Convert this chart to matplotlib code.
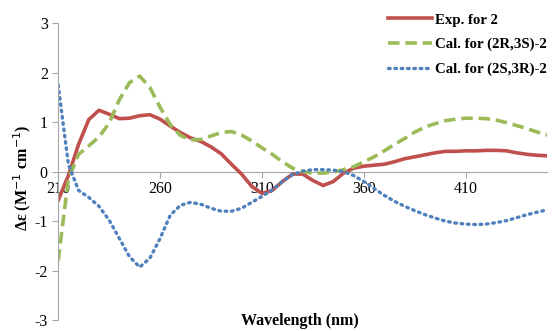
import matplotlib
matplotlib.use("Agg")
import matplotlib.pyplot as plt
import numpy as np

wavelength = list(range(210, 451, 5))
exp2 = [-0.58, -0.08, 0.55, 1.05, 1.24, 1.16, 1.07, 1.08, 1.13, 1.15,
        1.06, 0.92, 0.79, 0.68, 0.61, 0.50, 0.36, 0.15, -0.05, -0.30,
        -0.44, -0.38, -0.20, -0.05, -0.05, -0.18, -0.28, -0.20, -0.03, 0.07,
        0.11, 0.13, 0.15, 0.20, 0.26, 0.30, 0.34, 0.38, 0.41, 0.41,
        0.42, 0.42, 0.43, 0.43, 0.42, 0.38, 0.35, 0.33, 0.32]
cal_2R3S = [-1.80, -0.15, 0.35, 0.52, 0.70, 0.98, 1.45, 1.80, 1.93, 1.70,
            1.30, 0.95, 0.73, 0.64, 0.65, 0.72, 0.79, 0.81, 0.74, 0.62,
            0.48, 0.35, 0.20, 0.07, 0.00, -0.03, -0.03, -0.01, 0.04, 0.10,
            0.20, 0.30, 0.42, 0.55, 0.67, 0.80, 0.90, 0.97, 1.03, 1.06,
            1.08, 1.08, 1.07, 1.04, 0.99, 0.93, 0.87, 0.80, 0.74]
cal_2S3R = [1.75, 0.15, -0.38, -0.52, -0.70, -0.98, -1.35, -1.72, -1.93, -1.75,
            -1.35, -0.88, -0.68, -0.62, -0.66, -0.74, -0.80, -0.80, -0.74, -0.62,
            -0.50, -0.37, -0.20, -0.06, 0.01, 0.04, 0.04, 0.03, 0.00, -0.08,
            -0.20, -0.34, -0.48, -0.60, -0.70, -0.79, -0.87, -0.94, -1.00, -1.04,
            -1.06, -1.07, -1.06, -1.03, -0.99, -0.93, -0.87, -0.82, -0.77]
labels = ["Exp. for 2", "Cal. for (2R,3S)-2", "Cal. for (2S,3R)-2"]
xticks = [210, 260, 310, 360, 410]
yticks = [-3, -2, -1, 0, 1, 2, 3]

plt.rcParams['font.family'] = ['Liberation Serif', 'DejaVu Serif']

fig = plt.figure(figsize=(5.54, 3.31), dpi=100)
ax = fig.add_axes([0.105, 0.033, 0.883, 0.897])

ax.plot(wavelength, exp2, color='#c0504d', lw=2.6, solid_joinstyle='round', label=labels[0])
ax.plot(wavelength, cal_2R3S, color='#9bbb59', lw=2.6, ls=(0, (3.2, 1.6)), label=labels[1])
ax.plot(wavelength, cal_2S3R, color='#4f81bd', lw=2.4, ls=(0, (0.5, 1.4)), dash_capstyle='round', label=labels[2])

ax.set_xlim(210, 450)
ax.set_ylim(-3, 3)
ax.set_xticks(xticks)
ax.set_yticks(yticks)
ax.set_yticklabels([str(v) for v in yticks])

for s in ['top', 'right']:
    ax.spines[s].set_visible(False)
ax.spines['bottom'].set_position(('data', 0))
ax.spines['bottom'].set_color('#a6a6a6')
ax.spines['left'].set_color('#a6a6a6')
ax.spines['bottom'].set_zorder(0)
ax.tick_params(axis='both', colors='#a6a6a6', labelcolor='black', labelsize=11.5,
               length=4, width=0.8, direction='out')
ax.tick_params(axis='x', pad=3)

ax.set_ylabel('Δε (M$^{-1}$ cm$^{-1}$)', fontsize=11.5, fontweight='bold')
ax.yaxis.set_label_coords(-0.052, 0.48)
fig.text(0.542, 0.005, 'Wavelength (nm)', fontsize=11.5, fontweight='bold',
         ha='center', va='bottom')

leg = fig.legend(handles=ax.get_lines(), labels=labels, loc='upper left',
                 bbox_to_anchor=(0.700, 0.96), frameon=False,
                 prop={'weight': 'bold', 'size': 10.7}, handlelength=3.0,
                 handletextpad=0.2, labelspacing=0.75, borderaxespad=0, borderpad=0)

fig.savefig('out.png', dpi=100)
